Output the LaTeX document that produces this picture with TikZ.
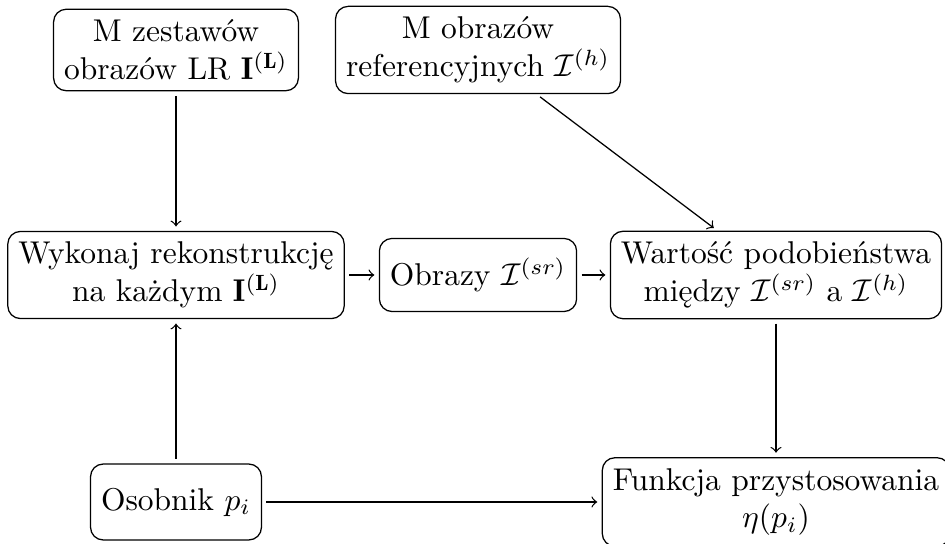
\documentclass[tikz,border=0pt]{standalone}
\usepackage{fontspec}
\usepackage{amsmath}
\begin{document}
\begin{tikzpicture}[
  x=0.31746pt, y=-0.31746pt,
  box/.style={draw, rounded corners=4pt, align=center, inner sep=3.333pt},
  arr/.style={->, shorten >=1.4pt, shorten <=1.4pt}
]
\useasboundingbox (0,0) rectangle (945,544);

% input data
\node[box] (sets) at (176,50) {M zestawów\\obrazów LR $\mathbf{I^{(L)}}$};
\node[box] (refs) at (478,50) {M obrazów\\referencyjnych $\mathcal{I}^{(h)}$};

% processing row
\node[box] (recon) at (176,275) {Wykonaj rekonstrukcję\\na każdym $\mathbf{I^{(L)}}$};
\node[box, minimum height=23.2pt] (sr) at (478,275) {Obrazy $\mathcal{I}^{(sr)}$};
\node[box] (sim) at (776,275) {Wartość podobieństwa\\między $\mathcal{I}^{(sr)}$ a $\mathcal{I}^{(h)}$};

% individual and fitness
\node[box, minimum height=24.1pt] (ind) at (176,502) {Osobnik $p_i$};
\node[box] (fit) at (776,502) {Funkcja przystosowania\\$\eta(p_i)$};

% connectors
\draw[arr] (sets) -- (recon);
\draw[arr] (refs) -- (sim);
\draw[arr] (recon) -- (sr);
\draw[arr] (sr) -- (sim);
\draw[arr] (ind) -- (recon);
\draw[arr] (sim) -- (fit);
\draw[arr] (ind) -- (fit);
\end{tikzpicture}
\end{document}
